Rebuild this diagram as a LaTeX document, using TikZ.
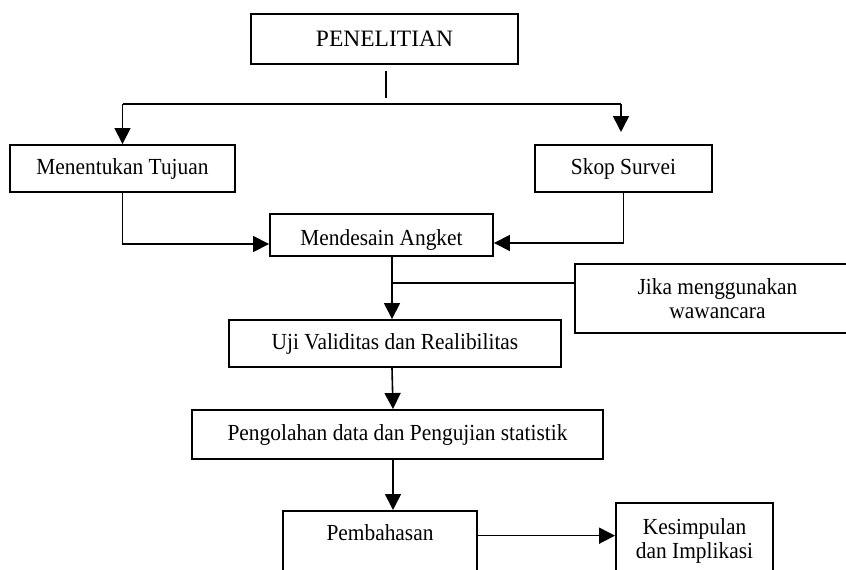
\documentclass[tikz,border=0pt]{standalone}
\usepackage{fontspec}
\setmainfont{Liberation Serif}[FakeStretch=0.93]
\newfontfamily\titlefont{Liberation Serif}
\usetikzlibrary{arrows.meta}

\begin{document}
\begin{tikzpicture}[
  x=1pt, y=-1pt,
  font=\fontsize{23}{24}\selectfont,
  box/.style={draw, line width=1.9pt, minimum height=47pt, align=center},
  conn/.style={line width=1.6pt},
  arrow/.style={conn, -{Triangle[length=16pt, width=16pt]}}
]
\clip (0,0) rectangle (846,570);

% Nodes
\node[box, minimum width=267pt, minimum height=50pt, font=\titlefont\fontsize{23.5}{24}\selectfont] (penelitian) at (384.5,39) {PENELITIAN};
\node[box, minimum width=225pt] (tujuan) at (122.5,168.5) {Menentukan Tujuan};
\node[box, minimum width=177pt] (skop) at (623.5,168.5) {Skop Survei};
\node[box, minimum width=223pt, minimum height=42pt, text height=20pt, text depth=0pt] (angket) at (381.5,235) {Mendesain Angket};
\node[box, minimum width=285pt, minimum height=69pt] (jika) at (717.5,298.5) {Jika menggunakan\\wawancara};
\node[box, minimum width=332pt] (uji) at (395,343.5) {Uji Validitas dan Realibilitas};
\node[box, minimum width=411pt, minimum height=49pt] (olah) at (397.5,434.5) {Pengolahan data dan Pengujian statistik};
\node[box, anchor=north, minimum width=194pt, inner ysep=15pt, text height=15pt, text depth=37pt] (bahas) at (380,510) {Pembahasan};
\node[box, anchor=north, minimum width=157pt, inner ysep=16pt] (simpul) at (694.5,502) {Kesimpulan\\dan Implikasi};

% Free ends
\coordinate (s1) at (386,71);
\coordinate (s2) at (386,98);
\coordinate (h1) at (122.5,104);
\coordinate (h2) at (621,104);
\coordinate (h3) at (621,132);
\coordinate (j1) at (392,283);

% Pointers
\draw[conn] (s1) -- (s2);
\draw[conn] (h1) -- (h2);
\draw[arrow] (h1) -- (tujuan.north);
\draw[arrow] (h2) -- (h3);
\draw[arrow] (tujuan.south) |- ([yshift=-9pt]angket.west);
\draw[arrow] (skop.south) |- ([yshift=-8pt]angket.east);
\draw[arrow] (angket.south -| j1) -- (j1 |- uji.north);
\draw[conn] (j1) -- (j1 -| jika.west);
\draw[arrow] (j1 |- uji.south) -- ([xshift=1pt]j1 |- olah.north);
\draw[arrow] ([xshift=1pt]j1 |- olah.south) -- ([xshift=1pt]j1 |- bahas.north);
\draw[arrow] ([yshift=3pt]bahas.mid east) -- ([yshift=3pt]bahas.mid east -| simpul.west);
\end{tikzpicture}
\end{document}
